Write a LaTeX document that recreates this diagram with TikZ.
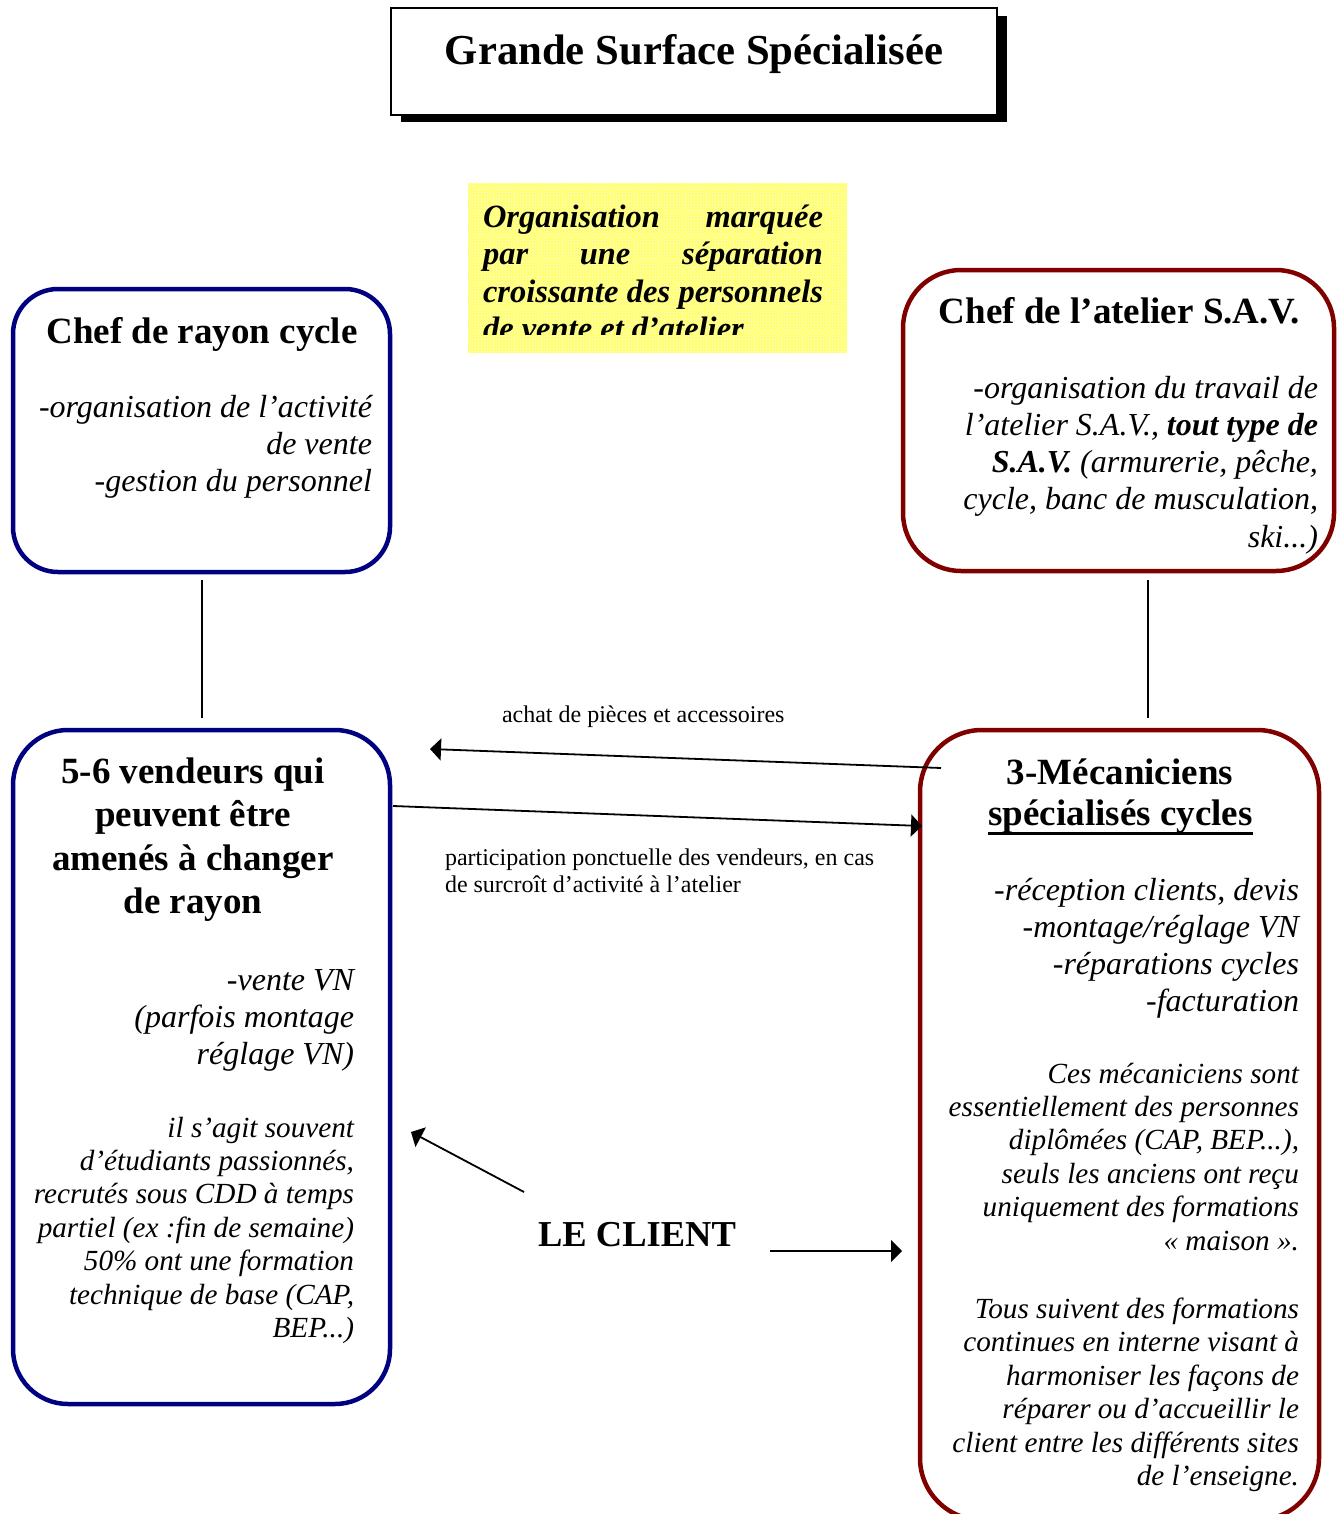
\documentclass[tikz,border=0pt]{standalone}
\usepackage{fontspec}
\setmainfont{Liberation Serif}
\usetikzlibrary{arrows.meta,patterns}
\definecolor{navyb}{RGB}{0,0,128}
\definecolor{darkr}{RGB}{128,0,0}
\definecolor{yel}{RGB}{255,255,110}
\newcommand\fsz[2]{\fontsize{#1}{#2}\selectfont}
\begin{document}
\begin{tikzpicture}[x=1pt,y=-1pt,
  box/.style={draw, line width=4.5pt, inner sep=0pt, outer sep=0pt, fill=white},
  txt/.style={inner sep=0pt, outer sep=0pt},
  arr/.style={line width=1.8pt, -{Triangle[length=11pt,width=22pt]}},
  link/.style={line width=2pt}]
\useasboundingbox (0,0) rectangle (1337,1514);
\clip (0,0) rectangle (1337,1514);
\fill[white] (0,0) rectangle (1337,1514);

% title
\fill[black] (401,16) rectangle (1007,122);
\node[draw, line width=2pt, fill=white, inner sep=0pt, minimum width=606, minimum height=107] (titlebox) at (694,61.5) {};
\node[txt, anchor=base, font=\bfseries\fsz{42.7}{48}] (title) at (694,65) {Grande Surface Spécialisée};

% yellow note
\fill[yel] (468,183) rectangle (847,353);
\fill[pattern=crosshatch dots, pattern color=white] (468,183) rectangle (847,353);
\begin{scope}
\clip (468,183) rectangle (847,334);
\node[txt, anchor=base west, align=left, font=\bfseries\itshape\fsz{32.5}{37.5}] (org) at (483,339.5)
 {\makebox[340pt][s]{Organisation marquée}\\\makebox[340pt][s]{par une séparation}\\\makebox[340pt][s]{croissante des personnels}\\de vente et d’atelier};
\end{scope}

% boxes
\node[box, draw=navyb, minimum width=377, minimum height=283, rounded corners=45pt] (chefR) at (201.5,430.5) {};
\node[box, draw=darkr, minimum width=431, minimum height=301, rounded corners=58pt] (chefA) at (1118.5,420.5) {};
\node[box, draw=navyb, minimum width=377, minimum height=674, rounded corners=55pt] (vend) at (201.5,1067) {};
\node[box, draw=darkr, minimum width=399, minimum height=790, rounded corners=62pt] (meca) at (1119.5,1125) {};

% chef de rayon
\node[txt, anchor=base, font=\bfseries\fsz{37}{44}] (chefRt) at (202,343) {Chef de rayon cycle};
\node[txt, anchor=base east, align=right, font=\itshape\fsz{32}{37}] (chefRd) at (372,491)
 {-organisation de l’activité\\de vente\\-gestion du personnel};

% chef atelier
\node[txt, anchor=base, font=\bfseries\fsz{37}{44}] (chefAt) at (1119.5,323) {Chef de l’atelier S.A.V.};
\node[txt, anchor=base east, align=right, font=\itshape\fsz{32}{37.3}] (chefAd) at (1318,547.2)
 {-organisation du travail de\\l’atelier S.A.V., \textbf{tout type de}\\\textbf{S.A.V.} (armurerie, pêche,\\cycle, banc de musculation,\\ski...)};

% vendeurs
\node[txt, anchor=base, align=center, font=\bfseries\fsz{37}{43.5}] (vendt) at (193,913.5)
 {5-6 vendeurs qui\\peuvent être\\amenés à changer\\de rayon};
\node[txt, anchor=base east, align=right, font=\itshape\fsz{32}{37}] (vendd) at (354,1064)
 {-vente VN\\(parfois montage\\réglage VN)};
\node[txt, anchor=base east, align=right, font=\itshape\fsz{29.2}{33.4}] (vende) at (354,1337.4)
 {il s’agit souvent\\d’étudiants passionnés,\\recrutés sous CDD à temps\\partiel (ex :fin de semaine)\\50\% ont une formation\\technique de base (CAP,\\BEP...)};

% mecaniciens
\node[txt, anchor=base, font=\bfseries\fsz{37}{44}] (mecat) at (1120,784) {3-Mécaniciens};
\node[txt, anchor=base, font=\bfseries\fsz{37}{44}] (mecau) at (1120.5,825) {spécialisés cycles};
\draw[line width=3pt] ([yshift=-8pt]mecau.base west) -- ([yshift=-8pt]mecau.base east);
\node[txt, anchor=base east, align=right, font=\itshape\fsz{32}{37}] (mecad) at (1299,1011)
 {-réception clients, devis\\-montage/réglage VN\\-réparations cycles\\-facturation};
\node[txt, anchor=base east, align=right, font=\itshape\fsz{29.2}{33.4}] (mecae) at (1299,1250)
 {Ces mécaniciens sont\\essentiellement des personnes\\diplômées (CAP, BEP...),\\seuls les anciens ont reçu\\uniquement des formations\\« maison ».};
\node[txt, anchor=base east, align=right, font=\itshape\fsz{29.2}{33.5}] (mecaf) at (1299,1485.5)
 {Tous suivent des formations\\continues en interne visant à\\harmoniser les façons de\\réparer ou d’accueillir le\\client entre les différents sites\\de l’enseigne.};

% vertical links
\draw[link] ([yshift=-8pt]chefR.south) -- ([yshift=12pt]vend.north);
\draw[link] ([xshift=29.5pt,yshift=-9pt]chefA.south) -- ([xshift=28.5pt,yshift=12pt]meca.north);

% arrows between boxes
\coordinate (achatS) at (941,768);
\coordinate (achatE) at (430,749);
\draw[arr] (achatS) -- (achatE);
\node[txt, anchor=base west, font=\fsz{24}{28}] (achat) at (502,722) {achat de pièces et accessoires};

\coordinate (partS) at (393,806);
\coordinate (partE) at (922,826);
\draw[arr] (partS) -- (partE);
\node[txt, anchor=base west, align=left, font=\fsz{24}{27.5}] (part) at (445,892.5)
 {participation ponctuelle des vendeurs, en cas\\de surcroît d’activité à l’atelier};

% client
\node[txt, anchor=base, font=\bfseries\fsz{36.5}{42}] (client) at (637,1246) {LE CLIENT};
\coordinate (cliL) at (524,1192);
\coordinate (cliLE) at (411,1132);
\draw[arr] (cliL) -- (cliLE);
\coordinate (cliR) at (770,1251);
\coordinate (cliRE) at (902,1251);
\draw[arr] (cliR) -- (cliRE);
\end{tikzpicture}
\end{document}
